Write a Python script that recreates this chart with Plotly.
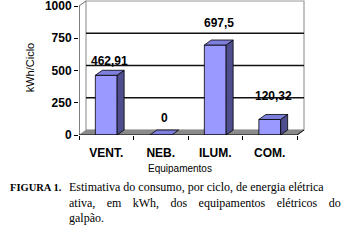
import plotly.graph_objects as go

# ---- data ----
categories = ["VENT.", "NEB.", "ILUM.", "COM."]
values = [462.91, 0, 697.5, 120.32]
value_labels = ["462,91", "0", "697,5", "120,32"]
y_ticks = [0, 250, 500, 750, 1000]

# ---- geometry (pixel-based style constants) ----
W, H = 346, 244
X0_PX, X1_PX = 79, 307      # plot area left/right (room for back wall)
Y0_PX, Y1_PX = 135, 0       # plot area bottom/top
PX_PER_CAT = 54.5
PX_PER_VAL = 0.129
DEPTH_X_PX, DEPTH_Y_PX = 7.0, 5

n = len(categories)
xs = list(range(n))
dx = DEPTH_X_PX / PX_PER_CAT
dy = DEPTH_Y_PX / PX_PER_VAL
xr = [-0.5, -0.5 + (X1_PX - X0_PX) / PX_PER_CAT]
yr = [0, (Y0_PX - Y1_PX) / PX_PER_VAL]
bw = 0.40
x_lo, x_hi = -0.5, n - 0.5
y_top = max(y_ticks)

FRONT = "#9999FF"
SIDE = "#4E4E8E"
TOP = "#7E7EDC"
EDGE = "#000000"
SANS = "Liberation Sans, Arial, sans-serif"
SERIF = "Liberation Serif, Times New Roman, serif"

fig = go.Figure()

# front faces of the bars
fig.add_trace(go.Bar(x=xs, y=values, width=bw, marker=dict(color=FRONT, line=dict(color=EDGE, width=0.8)),
                     hoverinfo="skip", showlegend=False))

# side + top faces (3-D look)
for x, v in zip(xs, values):
    xl, xrgt = x - bw / 2, x + bw / 2
    if v > 0:
        fig.add_trace(go.Scatter(x=[xrgt, xrgt + dx, xrgt + dx, xrgt, xrgt],
                                 y=[0, dy, v + dy, v, 0], fill="toself", fillcolor=SIDE,
                                 mode="lines", line=dict(color=EDGE, width=0.8),
                                 hoverinfo="skip", showlegend=False))
    fig.add_trace(go.Scatter(x=[xl, xrgt, xrgt + dx, xl + dx, xl],
                             y=[v, v, v + dy, v + dy, v], fill="toself", fillcolor=TOP,
                             mode="lines", line=dict(color=EDGE, width=0.8),
                             hoverinfo="skip", showlegend=False))

shapes = []
# back wall
shapes.append(dict(type="rect", layer="below", xref="x", yref="y",
                   x0=x_lo + dx, x1=x_hi + dx, y0=dy, y1=y_top + dy,
                   fillcolor="white", line=dict(color="#9A9A9A", width=1.2)))
# gridlines on the back wall
for t in y_ticks[1:-1]:
    shapes.append(dict(type="line", layer="below", xref="x", yref="y",
                       x0=x_lo + dx, x1=x_hi + dx, y0=t + dy, y1=t + dy,
                       line=dict(color="#111111", width=1.4)))
# floor
shapes.append(dict(type="path", layer="below", xref="x", yref="y",
                   path=f"M{x_lo},0 L{x_hi},0 L{x_hi+dx},{dy} L{x_lo+dx},{dy} Z",
                   fillcolor="#8A8A8A", line=dict(color="#8A8A8A", width=0.5)))
shapes.append(dict(type="line", xref="x", yref="y", x0=x_hi, x1=x_hi + dx, y0=0, y1=dy,
                   line=dict(color="#000000", width=1)))
# side-wall diagonal at top-left
shapes.append(dict(type="line", xref="x", yref="y", x0=x_lo, x1=x_lo + dx, y0=y_top, y1=y_top + dy,
                   line=dict(color="#666666", width=1)))
# front floor edge and value-axis line
shapes.append(dict(type="line", xref="x", yref="y", x0=x_lo, x1=x_hi, y0=0, y1=0,
                   line=dict(color="#000000", width=1)))
shapes.append(dict(type="line", xref="x", yref="y", x0=x_lo, x1=x_lo, y0=0, y1=y_top,
                   line=dict(color="#000000", width=1)))

annotations = []
label_shift = [4, 7, 12, 13]
for x, v, lab, s in zip(xs, values, value_labels, label_shift):
    annotations.append(dict(x=x + dx / 2, y=v + dy, xref="x", yref="y", text=f"<b>{lab}</b>",
                            showarrow=False, yanchor="bottom", yshift=s - 4,
                            font=dict(family=SANS, size=12, color="#000")))
annotations.append(dict(x=180 / W, y=1 - 168 / H, xref="paper", yref="paper", text="Equipamentos",
                        showarrow=False, xanchor="center", yanchor="middle",
                        font=dict(family=SANS, size=10, color="#000")))

cap_x = 66
nb = "\u00a0"
gap = nb * 3 + "\u2009"
annotations.append(dict(x=(cap_x - 2) / W, y=1 - 187 / H, xref="paper", yref="paper", text="<b>FIGURA 1.</b>",
                        showarrow=False, xanchor="right", yanchor="middle",
                        font=dict(family=SERIF, size=10.5, color="#000")))
cap_lines = [
    "Estimativa do consumo, por ciclo, de energia elétrica",
    gap.join(["ativa,", "em", "kWh,", "dos", "equipamentos", "elétricos", "do"]),
    "galpão.",
]
cap_y = [187, 203, 218]
for t, yy in zip(cap_lines, cap_y):
    annotations.append(dict(x=(cap_x + 1) / W, y=1 - yy / H, xref="paper", yref="paper", text=t,
                            showarrow=False, xanchor="left", yanchor="middle",
                            font=dict(family=SERIF, size=12, color="#000")))

fig.update_layout(
    width=W, height=H, margin=dict(l=0, r=0, t=0, b=0, autoexpand=False),
    paper_bgcolor="white", plot_bgcolor="rgba(0,0,0,0)",
    shapes=shapes, annotations=annotations, showlegend=False,
    xaxis=dict(domain=[X0_PX / W, X1_PX / W], range=xr, tickvals=xs, ticktext=categories,
               ticks="", showgrid=False, zeroline=False, showline=False, ticklabelstandoff=9,
               automargin=False, ticklabeloverflow="allow",
               tickfont=dict(family=SANS, size=12, color="#000", weight="bold"),
               minor=dict(tickmode="array", tickvals=[-0.5, 0.5, 1.5, 2.5, 3.5], ticks="outside",
                          ticklen=4, tickcolor="#000", showgrid=False)),
    yaxis=dict(domain=[1 - Y0_PX / H, 1 - Y1_PX / H], range=yr, tickvals=y_ticks,
               ticks="outside", ticklen=4, tickcolor="#000", showgrid=False, zeroline=False,
               showline=False, automargin=False, ticklabeloverflow="allow",
               tickfont=dict(family=SANS, size=12, color="#000", weight="bold"),
               title=dict(text="kWh/Ciclo", standoff=8,
                          font=dict(family=SANS, size=11, color="#000"))),
)

fig.write_html("out.html", config={"displayModeBar": False, "staticPlot": True},
               post_script="document.body.style.margin='0';")
